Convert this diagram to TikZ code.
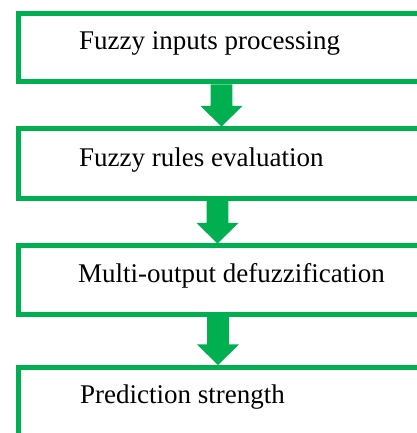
\documentclass[tikz,border=0pt]{standalone}
\usepackage{fontspec}
\setmainfont{Liberation Serif}
\usetikzlibrary{calc}
\definecolor{boxgreen}{HTML}{00B050}
\begin{document}
\begin{tikzpicture}[x=1pt,y=1pt,
  stepbox/.style={draw=boxgreen,line width=5pt,rectangle,minimum width=442pt,inner sep=0pt},
  lbl/.style={anchor=base west,inner sep=0pt,font=\fontsize{27}{32}\selectfont},
  arrowfill/.style={fill=boxgreen}]
\useasboundingbox (0,0) rectangle (416,433);
\node[stepbox,minimum height=68pt] (b1) at (239,385) {};
\node[stepbox,minimum height=69.5pt] (b2) at (239,269.25) {};
\node[stepbox,minimum height=68.5pt] (b3) at (239,152.75) {};
\node[stepbox,minimum height=100pt] (b4) at (239,15.5) {};
\node[lbl] (t1) at (79,383) {Fuzzy inputs processing};
\node[lbl] (t2) at (79,266.3) {Fuzzy rules evaluation};
\node[lbl] (t3) at (78,150) {Multi-output defuzzification};
\node[lbl] (t4) at (80,29.7) {Prediction strength};
\newcommand\blockarrow[3]{%
  \fill[arrowfill] let \p1=(#2.south), \p2=(#3.north) in
    (#1-10.8,\y1) -- (#1+10.8,\y1) -- (#1+10.8,\y2+20.5) -- (#1+21,\y2+20.5)
    -- (#1,\y2) -- (#1-21,\y2+20.5) -- (#1-10.8,\y2+20.5) -- cycle;}
\blockarrow{221.5}{b1}{b2}
\blockarrow{217.5}{b2}{b3}
\blockarrow{218}{b3}{b4}
\end{tikzpicture}
\end{document}
